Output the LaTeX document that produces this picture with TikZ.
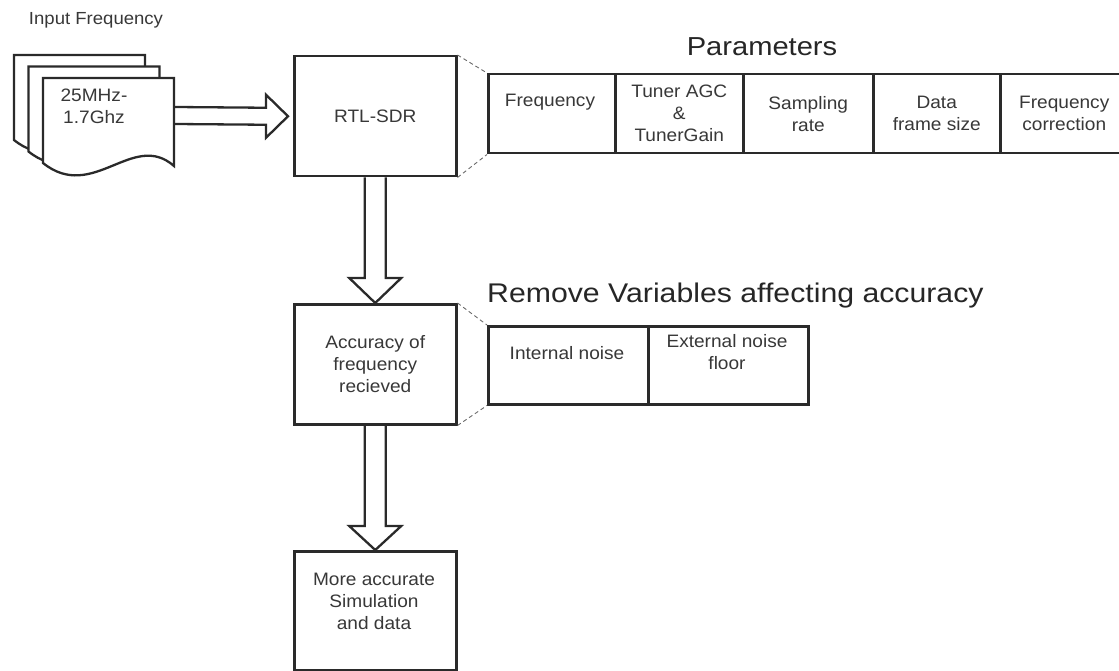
\documentclass[tikz,border=0pt]{standalone}
\usepackage{fontspec}
\setmainfont{Liberation Sans}[FakeStretch=1.06]
\newfontfamily\headfont{Liberation Sans}[FakeStretch=1.12]
\usetikzlibrary{calc}
\definecolor{linec}{HTML}{2A2A2A}
\definecolor{textc}{HTML}{383838}
\definecolor{dashc}{HTML}{6A6A6A}

% one sheet of the stacked input document (top-left corner given)
\newcommand\docsheet[2]{%
  \draw[sheet] (#1,#2) -- ++(131,0) -- ++(0,88)
    .. controls +(-41,-36) and +(50,40) .. ++(-131,-3) -- cycle;}

\begin{document}
\begin{tikzpicture}[x=1pt,y=-1pt,
  sheet/.style={draw=linec,line width=2.3pt,fill=white,line join=miter},
  box/.style={draw=linec,line width=2.5pt,fill=white,anchor=north west,
    inner sep=0pt,text=textc,align=center,
    font=\fontsize{18}{22}\selectfont},
  cell/.style={box},
  lbl/.style={text=textc,align=center,inner sep=0pt,
    font=\fontsize{18}{22}\selectfont},
  heading/.style={text=black!85,inner sep=0pt},
  dashline/.style={draw=dashc,line width=0.9pt,dash pattern=on 4pt off 3pt},
  blockarr/.style={draw=linec,line width=2.3pt,line join=miter}]

\useasboundingbox (0,0) rectangle (1119,671);

% input documents
\node[lbl,font=\fontsize{17.5}{21}\selectfont] (inlbl) at (96,20) {Input Frequency};
\docsheet{14}{55}
\docsheet{28.5}{66.5}
\docsheet{43}{78}
\node[lbl] (range) at (94,106) {25MHz-\\1.7Ghz};
\coordinate (srcout) at (175,115.5);

% main chain
\node[box,minimum width=162pt,minimum height=120pt] (rtl) at (293,55) {RTL-SDR};
\node[box,minimum width=162pt,minimum height=120pt] (acc) at (293,303)
  {Accuracy of\\frequency\\recieved};
\node[box,minimum width=162pt,minimum height=119pt] (more) at (293,550) {};
\node[lbl] (moretxt) at (374,601) {More accurate\\Simulation\\and data};

% parameters table
\node[heading,anchor=base,font=\headfont\fontsize{26}{30}\selectfont] (parhead) at (762,56) {Parameters};
\node[cell,minimum width=127pt,minimum height=79pt] (p1) at (487,73) {};
\node[cell,minimum width=128pt,minimum height=79pt] (p2) at (614,73) {Tuner AGC\\\&\\TunerGain};
\node[cell,minimum width=130pt,minimum height=79pt] (p3) at (742,73) {Sampling\\rate};
\node[cell,minimum width=127pt,minimum height=79pt] (p4) at (872,73) {Data\\frame size};
\node[cell,minimum width=128pt,minimum height=79pt] (p5) at (999,73) {Frequency\\correction};
\node[lbl] (p1txt) at (550,102) {Frequency};

% variables table
\node[heading,anchor=base west,font=\headfont\fontsize{27}{31}\selectfont] (varhead) at (487,302)
  {Remove Variables affecting accuracy};
\node[cell,minimum width=160pt,minimum height=78pt] (v1) at (487,325) {};
\node[cell,minimum width=160pt,minimum height=78pt] (v2) at (647,325) {};
\node[lbl] (v1txt) at (567,353) {Internal noise};
\node[lbl] (v2txt) at (727,352.5) {External noise\\floor};

% dashed expansion lines
\draw[dashline] (rtl.north east) -- (p1.north west);
\draw[dashline] (rtl.south east) -- (p1.south west);
\draw[dashline] (acc.north east) -- (v1.north west);
\draw[dashline] (acc.south east) -- (v1.south west);

% block arrows
\coordinate (t1) at ($(rtl.west)+(-5,0)$);
\draw[blockarr] ($(srcout)+(0,-8.5)$) -- ($(t1)+(-22,-8.5)$) -- ($(t1)+(-22,-21.5)$)
  -- (t1) -- ($(t1)+(-22,21.5)$) -- ($(t1)+(-22,8.5)$) -- ($(srcout)+(0,8.5)$);

\draw[blockarr] ($(rtl.south)+(-10.5,0)$) -- ($(acc.north)+(-10.5,-25)$)
  -- ($(acc.north)+(-26,-25)$) -- (acc.north) -- ($(acc.north)+(26,-25)$)
  -- ($(acc.north)+(10.5,-25)$) -- ($(rtl.south)+(10.5,0)$);

\draw[blockarr] ($(acc.south)+(-10.5,0)$) -- ($(more.north)+(-10.5,-24)$)
  -- ($(more.north)+(-26,-24)$) -- (more.north) -- ($(more.north)+(26,-24)$)
  -- ($(more.north)+(10.5,-24)$) -- ($(acc.south)+(10.5,0)$);
\end{tikzpicture}
\end{document}
